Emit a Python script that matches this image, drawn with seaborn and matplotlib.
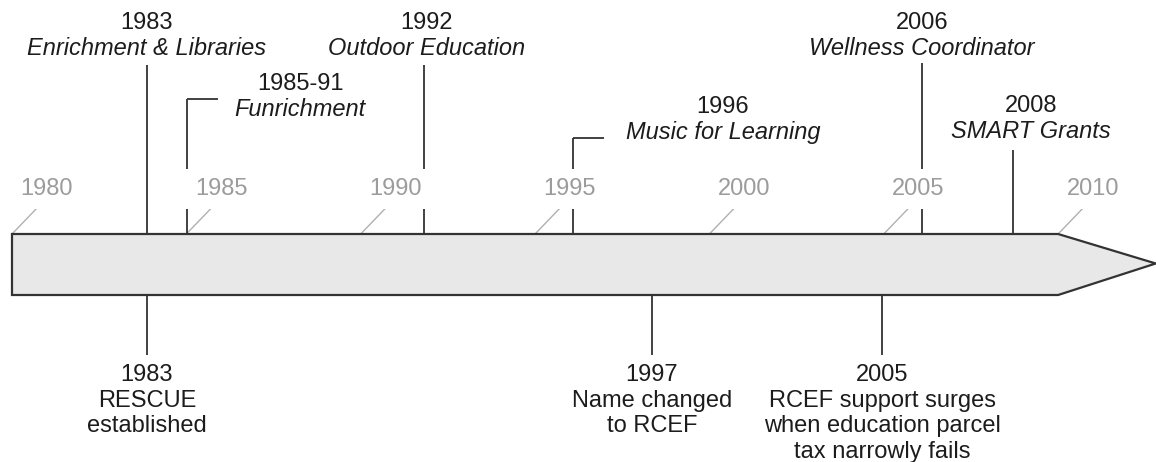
import numpy as np
import pandas as pd
import matplotlib
matplotlib.use("Agg")
import matplotlib.pyplot as plt
from matplotlib.patches import Polygon
import seaborn as sns

# Timeline axis
axis_years = [1980, 1985, 1990, 1995, 2000, 2005, 2010]
bar_start, bar_end, arrow_tip = 1980, 2010, 2012.8

# Events above the bar
top_labels = ["1983", "1985-91", "1992", "1996", "2006", "2008"]
top_titles = ["Enrichment & Libraries", "Funrichment", "Outdoor Education",
              "Music for Learning", "Wellness Coordinator", "SMART Grants"]
top_x = [1983.87, 1985.02, 1991.82, 1996.09, 2006.1, 2008.7]
top_text_x = [1983.87, 1988.26, 1991.9, 2000.39, 2006.1, 2009.22]

# Events below the bar
bottom_labels = ["1983", "1997", "2005"]
bottom_titles = ["RESCUE\nestablished", "Name changed\nto RCEF",
                 "RCEF support surges\nwhen education parcel\ntax narrowly fails"]
bottom_x = [1983.87, 1998.35, 2004.95]

# layout (pixel rows, y grows downward)
top_text_y = [12, 73, 12, 96, 12, 95]
stem_top = [65, 99, 65, 138, 63, 150]
bracket = [False, True, False, True, False, False]
BAR_TOP, BAR_BOT = 234, 295
PX_PER_YEAR = 34.87

sns.set_theme(style="white")
plt.rcParams["font.family"] = ["Liberation Sans", "DejaVu Sans"]
FS = 17
DARK = "#1c1c1c"
GREY = "#9c9c9c"

fig = plt.figure(figsize=(11.56, 4.62), dpi=100)
ax = fig.add_axes([0, 0, 1, 1])

# the arrow-shaped bar
mid = (BAR_TOP + BAR_BOT) / 2
ax.add_patch(Polygon([(bar_start, BAR_TOP), (bar_end, BAR_TOP), (arrow_tip, mid - 1),
                      (bar_end, BAR_BOT), (bar_start, BAR_BOT)],
                     closed=True, facecolor="#e8e8e8", edgecolor="#333333",
                     lw=1.6, zorder=3, clip_on=False))

# slanted year ticks
dx = 26 / PX_PER_YEAR
ticks = pd.DataFrame({
    "x": [v for y in axis_years for v in (y, y + dx)],
    "y": [v for y in axis_years for v in (BAR_TOP, BAR_TOP - 27)],
    "year": [y for y in axis_years for _ in range(2)],
})
sns.lineplot(data=ticks, x="x", y="y", units="year", estimator=None,
             color="#b0b0b0", lw=1.0, ax=ax, legend=False, zorder=1)
ax.set_xlim(1980 - 12 / PX_PER_YEAR, 1980 + 1144 / PX_PER_YEAR)
ax.set_ylim(462, 0)
ax.axis("off")
for y in axis_years:
    ax.text(y + 1.0, 189, str(y), color=GREY, fontsize=FS, ha="center", va="center",
            zorder=4, bbox=dict(boxstyle="square,pad=0.4", fc="white", ec="none"))

# top events
for lab, title, x, tx, ty, st, br in zip(top_labels, top_titles, top_x, top_text_x,
                                         top_text_y, stem_top, bracket):
    ax.plot([x, x], [st, BAR_TOP], color="#333333", lw=1.3, zorder=2,
            solid_capstyle="butt")
    if br:
        ax.plot([x, x + 0.88], [st, st], color="#333333", lw=1.3, zorder=2,
                solid_capstyle="butt")
    ax.text(tx, ty, lab, color=DARK, fontsize=FS, ha="center", va="top")
    ax.text(tx, ty + 25, title, color=DARK, fontsize=FS, ha="center", va="top",
            style="italic")

# bottom events
for lab, title, x in zip(bottom_labels, bottom_titles, bottom_x):
    ax.plot([x, x], [BAR_BOT, 355], color="#333333", lw=1.3, zorder=2,
            solid_capstyle="butt")
    ax.text(x, 364, lab + "\n" + title, color=DARK, fontsize=FS, ha="center",
            va="top", linespacing=1.21)

fig.savefig("out.png", dpi=100)
